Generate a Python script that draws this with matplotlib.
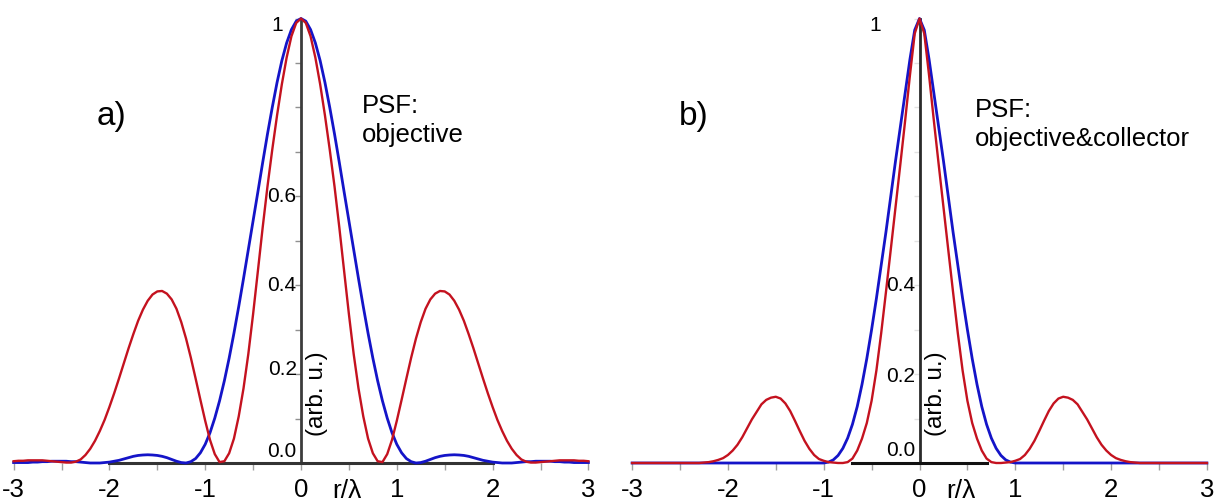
import numpy as np
import matplotlib
matplotlib.use("Agg")
import matplotlib.pyplot as plt

plt.rcParams["font.family"] = ["Liberation Sans", "DejaVu Sans"]

# radial sample positions r/lambda (profiles are symmetric about r = 0)
r_half = np.linspace(0.0, 3.0, 61)

# a) objective PSF
obj_red = [1.000, 0.990, 0.960, 0.912, 0.852, 0.782, 0.705, 0.622, 0.530, 0.432,
           0.335, 0.245, 0.168, 0.105, 0.055, 0.022, 0.004, 0.002, 0.020, 0.052,
           0.095, 0.142, 0.190, 0.237, 0.280, 0.317, 0.347, 0.368, 0.381, 0.387,
           0.386, 0.379, 0.365, 0.345, 0.320, 0.290, 0.258, 0.224, 0.190, 0.157,
           0.126, 0.097, 0.072, 0.050, 0.032, 0.018, 0.008, 0.003, 0.001, 0.001,
           0.002, 0.003, 0.004, 0.005, 0.006, 0.006, 0.006, 0.006, 0.005, 0.005,
           0.004]
obj_blue = [1.000, 0.994, 0.975, 0.945, 0.905, 0.856, 0.800, 0.740, 0.676, 0.610,
            0.545, 0.480, 0.415, 0.352, 0.292, 0.236, 0.185, 0.140, 0.101, 0.068,
            0.042, 0.023, 0.010, 0.003, 0.000, 0.001, 0.004, 0.008, 0.012, 0.015,
            0.017, 0.018, 0.0185, 0.018, 0.017, 0.015, 0.012, 0.009, 0.006, 0.004,
            0.002, 0.001, 0.000, 0.000, 0.000, 0.001, 0.002, 0.003, 0.003, 0.004,
            0.004, 0.004, 0.004, 0.003, 0.003, 0.002, 0.002, 0.001, 0.001, 0.001,
            0.001]

# b) objective & collector PSF
oc_red = [1.000, 0.966, 0.872, 0.770, 0.672, 0.576, 0.480, 0.385, 0.292, 0.208,
          0.140, 0.090, 0.055, 0.028, 0.010, 0.002, 0.000, 0.000, 0.001, 0.002,
          0.005, 0.009, 0.018, 0.032, 0.050, 0.072, 0.095, 0.117, 0.134, 0.145,
          0.149, 0.147, 0.142, 0.132, 0.115, 0.098, 0.078, 0.058, 0.041, 0.028,
          0.018, 0.011, 0.007, 0.004, 0.002, 0.001, 0.000, 0.000, 0.000, 0.000,
          0.000, 0.000, 0.000, 0.000, 0.000, 0.000, 0.000, 0.000, 0.000, 0.000,
          0.000]
oc_blue = [1.000, 0.974, 0.908, 0.832, 0.756, 0.680, 0.600, 0.520, 0.445, 0.370,
           0.300, 0.235, 0.177, 0.127, 0.087, 0.056, 0.033, 0.017, 0.007, 0.002,
           0.000, 0.000, 0.000, 0.000, 0.000, 0.000, 0.000, 0.000, 0.000, 0.000,
           0.000, 0.000, 0.000, 0.000, 0.000, 0.000, 0.000, 0.000, 0.000, 0.000,
           0.000, 0.000, 0.000, 0.000, 0.000, 0.000, 0.000, 0.000, 0.000, 0.000,
           0.000, 0.000, 0.000, 0.000, 0.000, 0.000, 0.000, 0.000, 0.000, 0.000,
           0.000]

x_ticks = [-3, -2.5, -2, -1.5, -1, -0.5, 0, 0.5, 1, 1.5, 2, 2.5, 3]
x_tick_labels = ["-3", "", "-2", "", "-1", "", "0", "", "1", "", "2", "", "3"]
y_ticks = [0.0, 0.1, 0.2, 0.3, 0.4, 0.5, 0.6, 0.7, 0.8, 0.9, 1.0]

RED = "#c4121f"
BLUE = "#1414c8"
W, H = 1218, 504
SX = 95.8        # pixels per r/lambda unit
Y0, Y1 = 463, 18.5


def full(profile):
    p = np.asarray(profile, dtype=float)
    r = np.concatenate([-r_half[::-1], r_half[1:]])
    return r, np.concatenate([p[::-1], p[1:]])


def panel(x0px, red, blue, letter, letter_x, psf_x, caption, y_labels,
          one_x, axis_bounds, spine_col, base_col, ytick_col, psf_dy, rl_x):
    ax = fig.add_axes([(x0px - 3 * SX) / W, (H - Y0) / H,
                       6 * SX / W, (Y0 - Y1) / H])
    ax.set_xlim(-3, 3)
    ax.set_ylim(0, 1)
    ax.patch.set_alpha(0)

    r, yb = full(blue)
    ax.plot(r, yb, color=BLUE, lw=2.0, zorder=3, clip_on=False)
    r, yr = full(red)
    ax.plot(r, yr, color=RED, lw=1.7, zorder=4, clip_on=False)

    for s in ("top", "right"):
        ax.spines[s].set_visible(False)
    ax.spines["left"].set_position(("data", 0))
    ax.spines["left"].set_bounds(0, 1)
    ax.spines["left"].set_color(spine_col)
    ax.spines["left"].set_linewidth(2.0)
    ax.spines["bottom"].set_bounds(*axis_bounds)
    ax.spines["bottom"].set_color(base_col)
    ax.spines["bottom"].set_linewidth(2.2)

    ax.set_xticks(x_ticks)
    ax.set_xticklabels(x_tick_labels)
    ax.tick_params(axis="x", length=5, width=1, color="#a0a0a0",
                   labelsize=18.5, pad=6)
    ax.set_yticks(y_ticks)
    ax.set_yticklabels([])
    ax.tick_params(axis="y", length=4, width=1, color=ytick_col)

    for val, txt, dy, va in y_labels:
        ax.text(-0.045, val + dy, txt, ha="right", va=va, fontsize=15)
    ax.text(one_x, 0.985, "1", ha="right", va="center", fontsize=15)

    ax.text(0.17, 0.155, "(arb. u.)", rotation=90, ha="center", va="center",
            fontsize=17.5)
    ax.text(rl_x, -0.063, "r/\u03bb", ha="center", va="center", fontsize=19)

    ax.text(letter_x, 0.78, letter, ha="left", va="center", fontsize=24)
    ax.text(psf_x, 0.787 - psf_dy, "PSF:", ha="left", va="baseline",
            fontsize=18.5)
    ax.text(psf_x, 0.722 - psf_dy, caption, ha="left", va="baseline",
            fontsize=18.5)
    return ax


fig = plt.figure(figsize=(W / 100, H / 100), dpi=100)

panel(301, obj_red, obj_blue, "a)", -2.13, 0.637, "objective",
      [(0.6, "0.6", 0.0, "center"), (0.4, "0.4", 0.0, "center"),
       (0.2, "0.2", 0.01, "center"), (0.0, "0.0", 0.004, "bottom")],
      -0.19, (-2, 2), "#3c3c3c", "#333333", "#909090", 0.0, 0.48)

panel(919.5, oc_red, oc_blue, "b)", -2.51, 0.58, "objective&collector",
      [(0.4, "0.4", 0.0, "center"), (0.2, "0.2", -0.005, "center"),
       (0.0, "0.0", 0.006, "bottom")],
      -0.40, (-0.7, 0.7), "#2a2a2a", "#111111", "#e2e2e2", 0.008, 0.43)

fig.savefig("out.png", dpi=100)
